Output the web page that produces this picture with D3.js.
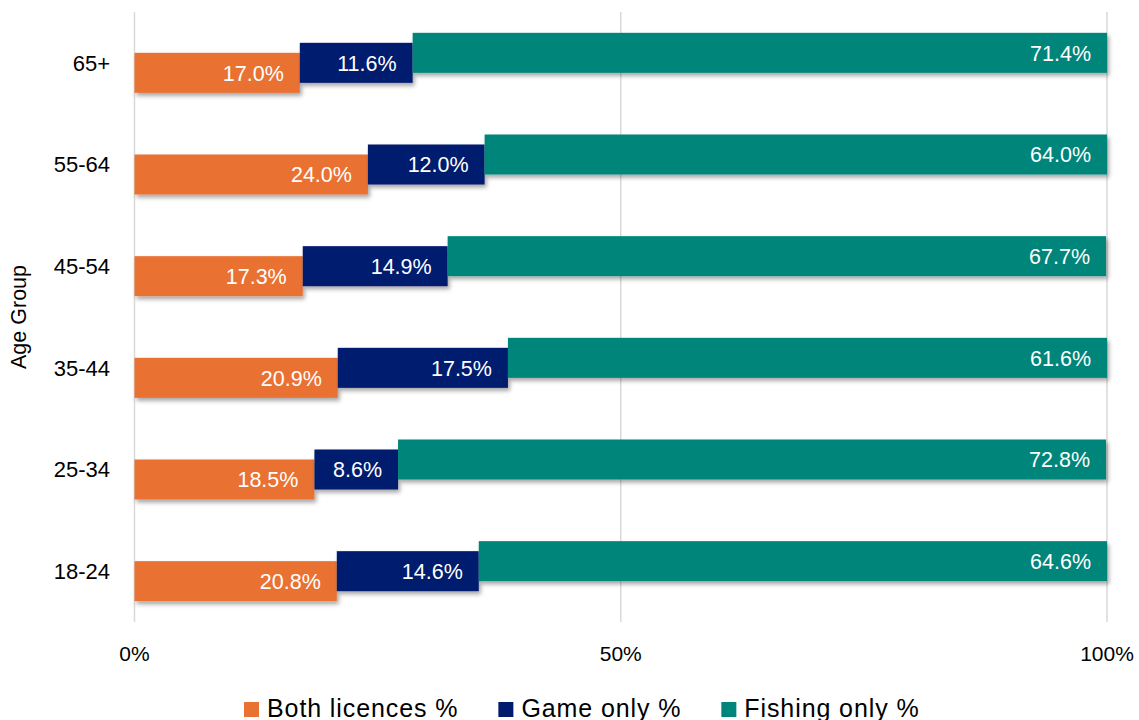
<!DOCTYPE html>
<html>
<head>
<meta charset="utf-8">
<script src="https://cdn.jsdelivr.net/npm/d3@7"></script>
<style>
  html, body { margin: 0; padding: 0; background: #fff; }
  svg { display: block; }
</style>
</head>
<body>
<svg id="chart" width="1139" height="720"></svg>
<script>
// Licence holding by age group (shares of each age group, %)
const ageGroups = ["65+", "55-64", "45-54", "35-44", "25-34", "18-24"];
const seriesNames = ["Both licences %", "Game only %", "Fishing only %"];
const bothLicences = [17.0, 24.0, 17.3, 20.9, 18.5, 20.8];
const gameOnly     = [11.6, 12.0, 14.9, 17.5, 8.6, 14.6];
const fishingOnly  = [71.4, 64.0, 67.7, 61.6, 72.8, 64.6];
const xTicks = [0, 50, 100];
const tickLabels = ["0%", "50%", "100%"];
const colors = ["#E97132", "#001B6E", "#00857A"];

const seriesValues = [bothLicences, gameOnly, fishingOnly];
const rows = ageGroups.map((g, i) => {
  const r = { group: g };
  seriesNames.forEach((s, k) => { r[s] = seriesValues[k][i]; });
  return r;
});
const stacked = d3.stack().keys(seriesNames)(rows);

const svg = d3.select("#chart");
const plotLeft = 134.5, plotRight = 1107, plotTop = 12, plotBottom = 622;

const x = d3.scaleLinear().domain([0, 100]).range([plotLeft, plotRight]);
const y = d3.scaleBand().domain(ageGroups).range([plotTop, plotBottom]);
const barH = 40;
// each series sits a step higher than the previous one
const seriesShift = [10, 0, -10];

// drop shadow under the bars
const defs = svg.append("defs");
const f = defs.append("filter").attr("id", "shadow")
  .attr("x", "-5%").attr("y", "-30%").attr("width", "115%").attr("height", "180%");
f.append("feDropShadow").attr("dx", 2).attr("dy", 3).attr("stdDeviation", 2)
  .attr("flood-color", "#000").attr("flood-opacity", 0.35);

// vertical gridlines
svg.append("g").selectAll("line").data(xTicks).join("line")
  .attr("x1", d => x(d)).attr("x2", d => x(d))
  .attr("y1", plotTop).attr("y2", plotBottom)
  .attr("stroke", "#d9d9d9").attr("stroke-width", 1.5);

// x tick labels
svg.append("g").selectAll("text").data(xTicks).join("text")
  .attr("x", d => x(d)).attr("y", 661)
  .attr("text-anchor", "middle")
  .attr("font-family", "'Liberation Sans', Arial, sans-serif")
  .attr("font-size", 21).attr("fill", "#000")
  .text((d, i) => tickLabels[i]);

// category labels
svg.append("g").selectAll("text").data(ageGroups).join("text")
  .attr("x", 110).attr("y", d => y(d) + y.bandwidth() / 2)
  .attr("dy", "0.36em")
  .attr("text-anchor", "end")
  .attr("font-family", "'Liberation Sans', Arial, sans-serif")
  .attr("font-size", 22).attr("fill", "#000")
  .text(d => d);

// axis title
svg.append("text")
  .attr("transform", "translate(26,317) rotate(-90)")
  .attr("text-anchor", "middle")
  .attr("font-family", "'Liberation Sans', Arial, sans-serif")
  .attr("font-size", 21.5).attr("fill", "#000")
  .text("Age Group");

// bars
const layers = svg.append("g").selectAll("g").data(stacked).join("g")
  .attr("fill", (d, k) => colors[k]);

layers.each(function (layer, k) {
  d3.select(this).selectAll("rect").data(layer).join("rect")
    .attr("x", d => x(d[0]))
    .attr("width", d => x(d[1]) - x(d[0]))
    .attr("y", d => y(d.data.group) + y.bandwidth() / 2 + seriesShift[k] - barH / 2)
    .attr("height", barH)
    .attr("filter", "url(#shadow)");
});

// value labels, inside the end of each segment
const labelLayers = svg.append("g").selectAll("g").data(stacked).join("g");
labelLayers.each(function (layer, k) {
  d3.select(this).selectAll("text").data(layer).join("text")
    .attr("x", d => x(d[1]) - 16)
    .attr("y", d => y(d.data.group) + y.bandwidth() / 2 + seriesShift[k])
    .attr("dy", "0.36em")
    .attr("text-anchor", "end")
    .attr("font-family", "'Liberation Sans', Arial, sans-serif")
    .attr("font-size", 21.5).attr("fill", "#fff")
    .text(d => (d[1] - d[0]).toFixed(1) + "%");
});

// legend along the bottom edge
const legend = svg.append("g");
const items = legend.selectAll("g").data(seriesNames).join("g");
items.append("rect").attr("width", 15).attr("height", 15).attr("y", -15)
  .attr("fill", (d, k) => colors[k]);
items.append("text").attr("x", 23).attr("y", 0)
  .attr("font-family", "'Liberation Sans', Arial, sans-serif")
  .attr("font-size", 25).attr("letter-spacing", 0.9).attr("fill", "#000")
  .text(d => d);
const widths = [];
items.each(function () {
  widths.push(23 + d3.select(this).select("text").node().getComputedTextLength());
});
const gap = 40;
let offset = 244;
items.attr("transform", (d, k) => {
  const t = `translate(${offset},717)`;
  offset += widths[k] + gap;
  return t;
});
</script>
</body>
</html>
